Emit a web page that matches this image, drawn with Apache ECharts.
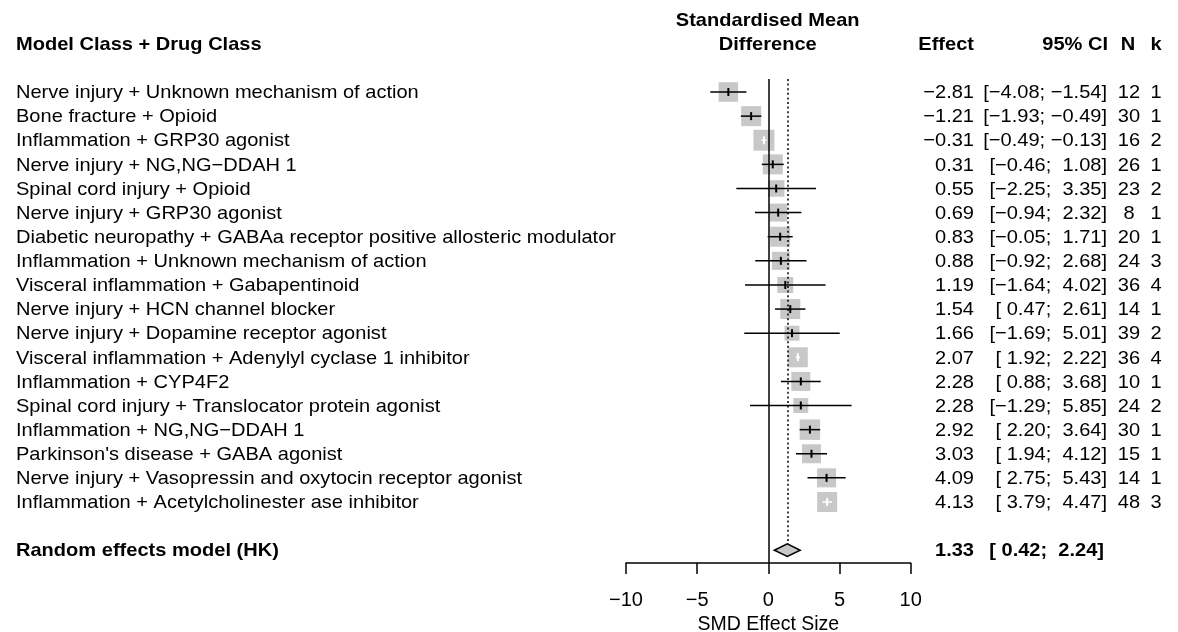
<!DOCTYPE html>
<html>
<head>
<meta charset="utf-8">
<style>
  html, body { margin: 0; padding: 0; background: #fff; }
  #chart { width: 1178px; height: 632px; }
</style>
<script src="https://cdn.jsdelivr.net/npm/echarts@6/dist/echarts.min.js"></script>
</head>
<body>
<div id="chart"></div>
<script>
// Model class + drug class subgroups, in plotted order
const labels = [
  'Nerve injury + Unknown mechanism of action',
  'Bone fracture + Opioid',
  'Inflammation + GRP30 agonist',
  'Nerve injury + NG,NG\u2212DDAH 1',
  'Spinal cord injury + Opioid',
  'Nerve injury + GRP30 agonist',
  'Diabetic neuropathy + GABAa receptor positive allosteric modulator',
  'Inflammation + Unknown mechanism of action',
  'Visceral inflammation + Gabapentinoid',
  'Nerve injury + HCN channel blocker',
  'Nerve injury + Dopamine receptor agonist',
  'Visceral inflammation + Adenylyl cyclase 1 inhibitor',
  'Inflammation + CYP4F2',
  'Spinal cord injury + Translocator protein agonist',
  'Inflammation + NG,NG\u2212DDAH 1',
  "Parkinson's disease + GABA agonist",
  'Nerve injury + Vasopressin and oxytocin receptor agonist',
  'Inflammation + Acetylcholinester ase inhibitor'
];
const effect  = [-2.81, -1.21, -0.31, 0.31, 0.55, 0.69, 0.83, 0.88, 1.19, 1.54, 1.66, 2.07, 2.28, 2.28, 2.92, 3.03, 4.09, 4.13];
const ciLower = [-4.08, -1.93, -0.49, -0.46, -2.25, -0.94, -0.05, -0.92, -1.64, 0.47, -1.69, 1.92, 0.88, -1.29, 2.20, 1.94, 2.75, 3.79];
const ciUpper = [-1.54, -0.49, -0.13, 1.08, 3.35, 2.32, 1.71, 2.68, 4.02, 2.61, 5.01, 2.22, 3.68, 5.85, 3.64, 4.12, 5.43, 4.47];
const nAnimals = [12, 30, 16, 26, 23, 8, 20, 24, 36, 14, 39, 36, 10, 24, 30, 15, 14, 48];
const kStudies = [1, 1, 2, 1, 2, 1, 1, 3, 4, 1, 2, 4, 1, 2, 1, 1, 1, 3];
// relative random-effects weights (%), shown as box area
const weights = [6.0, 6.3, 6.9, 6.3, 4.3, 5.1, 6.3, 5.1, 4.0, 6.3, 3.5, 6.3, 5.7, 3.5, 6.6, 5.7, 5.7, 6.3];

// pooled estimate
const pooledLabel = 'Random effects model (HK)';
const pooledEffect = 1.33;
const pooledCI = [0.42, 2.24];

// axis
const xMin = -10, xMax = 10, xStep = 5;
const xTitle = 'SMD Effect Size';

// column headings
const headLeft = 'Model Class + Drug Class';
const headPlot = ['Standardised Mean', 'Difference'];
const headEffect = 'Effect';
const headCI = '95% CI';
const headN = 'N';
const headK = 'k';

// ---------------------------------------------------------------------------
const MINUS = '\u2212';
const FONT = '"Liberation Sans", Arial, Helvetica, sans-serif';
const FS = 19;          // body font size
const SX = 1.055;       // slight horizontal stretch of the text
const TY = 1;           // baseline nudge for text rows
const summaryRow = labels.length + 1;

function num(v) { return v.toFixed(2).replace('-', MINUS); }
function pad(s, w) { while (s.length < w) s = ' ' + s; return s; }
function ciText(lo, hi) { return '[' + pad(num(lo), 5) + '; ' + pad(num(hi), 5) + ']'; }

// text column anchors (pixels)
const COL = { label: 16, effect: 974, ci: 1107, n: 1129, k: 1156 };

function txt(x, y, s, align, bold) {
  return {
    type: 'text', x: x, y: y + TY, scaleX: SX, silent: true,
    style: {
      text: s, x: 0, y: 0, align: align, verticalAlign: 'middle',
      font: (bold ? 'bold ' : '') + FS + 'px ' + FONT, fill: '#000'
    }
  };
}

const studyData = effect.map((e, i) => [i, e, ciLower[i], ciUpper[i], weights[i]]);

const chart = echarts.init(document.getElementById('chart'), null, { renderer: 'canvas' });

const option = {
  animation: false,
  backgroundColor: '#fff',
  grid: { left: 626, width: 284.7, top: 79, height: 484, containLabel: false, outerBoundsMode: 'none' },
  xAxis: {
    type: 'value', min: xMin, max: xMax, interval: xStep,
    name: xTitle, nameLocation: 'middle', nameGap: 44,
    nameTextStyle: { color: '#000', fontSize: 19.5, fontFamily: FONT },
    axisLine: { show: true, onZero: false, lineStyle: { color: '#000', width: 1.5 } },
    axisTick: { show: true, length: 11, lineStyle: { color: '#000', width: 1.5 } },
    axisLabel: {
      color: '#000', fontSize: 20, fontFamily: FONT, margin: 27,
      formatter: v => String(v).replace('-', MINUS)
    },
    splitLine: { show: false }
  },
  yAxis: {
    type: 'value', inverse: true, min: -0.54, max: 19.53, show: false
  },
  graphic: [
    txt(COL.label, 44, headLeft, 'left', true),
    txt(767.7, 20, headPlot[0], 'center', true),
    txt(767.7, 44, headPlot[1], 'center', true),
    txt(COL.effect, 44, headEffect, 'right', true),
    txt(COL.ci + 1, 44, headCI, 'right', true),
    txt(COL.n - 1, 44, headN, 'center', true),
    txt(COL.k, 44, headK, 'center', true)
  ],
  series: [
    {
      // reference lines: no effect (solid) and pooled estimate (dotted)
      type: 'custom',
      name: 'reference',
      data: [],
      renderItem: () => null,
      markLine: {
        silent: true, symbol: 'none', label: { show: false },
        data: [
          { xAxis: 0, lineStyle: { color: '#000', width: 1.5, type: 'solid' } },
          [
            { coord: [pooledEffect, -0.54], lineStyle: { color: '#000', width: 1.5, type: [2, 2.6] } },
            { coord: [pooledEffect, summaryRow - 0.27] }
          ]
        ]
      }
    },
    {
      // study boxes with confidence intervals
      type: 'custom',
      name: 'studies',
      coordinateSystem: 'cartesian2d',
      encode: { x: 1, y: 0 },
      data: studyData,
      renderItem: (params, api) => {
        const row = api.value(0);
        const c = api.coord([api.value(1), row]);
        const lo = api.coord([api.value(2), row]);
        const hi = api.coord([api.value(3), row]);
        const side = 7.97 * Math.sqrt(api.value(4));
        const inside = lo[0] >= c[0] - side / 2 && hi[0] <= c[0] + side / 2;
        const col = inside ? '#fff' : '#000';
        return {
          type: 'group',
          children: [
            { type: 'rect', shape: { x: c[0] - side / 2, y: c[1] - side / 2, width: side, height: side },
              style: { fill: '#c8c8c8' } },
            { type: 'line', shape: { x1: lo[0], y1: c[1], x2: hi[0], y2: c[1] },
              style: { stroke: col, lineWidth: 1.5 } },
            { type: 'line', shape: { x1: c[0], y1: c[1] - 4, x2: c[0], y2: c[1] + 4 },
              style: { stroke: col, lineWidth: 2 } }
          ]
        };
      }
    },
    {
      // pooled estimate diamond
      type: 'custom',
      name: 'pooled',
      coordinateSystem: 'cartesian2d',
      encode: { x: 1, y: 0 },
      data: [[summaryRow, pooledEffect, pooledCI[0], pooledCI[1]]],
      renderItem: (params, api) => {
        const row = api.value(0);
        const l = api.coord([api.value(2), row]);
        const r = api.coord([api.value(3), row]);
        const t = api.coord([api.value(1), row - 0.26]);
        const b = api.coord([api.value(1), row + 0.26]);
        return {
          type: 'polygon',
          shape: { points: [l, t, r, b] },
          style: { fill: '#c8c8c8', stroke: '#000', lineWidth: 1.5 }
        };
      }
    },
    {
      // text columns for each study row
      type: 'custom',
      name: 'studyText',
      coordinateSystem: 'cartesian2d',
      encode: { x: 1, y: 0 },
      data: studyData,
      renderItem: (params, api) => {
        const i = params.dataIndex;
        const y = api.coord([0, api.value(0)])[1];
        return {
          type: 'group',
          children: [
            txt(COL.label, y, labels[i], 'left', false),
            txt(COL.effect, y, num(effect[i]), 'right', false),
            txt(COL.ci, y, ciText(ciLower[i], ciUpper[i]), 'right', false),
            txt(COL.n, y, String(nAnimals[i]), 'center', false),
            txt(COL.k, y, String(kStudies[i]), 'center', false)
          ]
        };
      }
    },
    {
      // text for pooled row
      type: 'custom',
      name: 'pooledText',
      coordinateSystem: 'cartesian2d',
      encode: { x: 1, y: 0 },
      data: [[summaryRow, pooledEffect]],
      renderItem: (params, api) => {
        const y = api.coord([0, api.value(0)])[1];
        return {
          type: 'group',
          children: [
            txt(COL.label, y, pooledLabel, 'left', true),
            txt(COL.effect, y, num(pooledEffect), 'right', true),
            txt(COL.ci - 3, y, ciText(pooledCI[0], pooledCI[1]), 'right', true)
          ]
        };
      }
    }
  ]
};

chart.setOption(option);
</script>
</body>
</html>
